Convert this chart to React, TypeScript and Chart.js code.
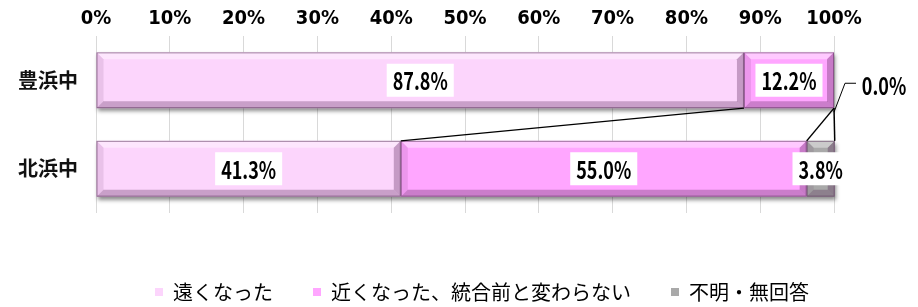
import React, { useEffect, useRef } from 'react';
import { Chart, registerables } from 'chart.js';

Chart.register(...registerables);

const categories = ['豊浜中', '北浜中'];
const seriesNames = ['遠くなった', '近くなった、統合前と変わらない', '不明・無回答'];
const fartherValues = [87.8, 41.3];
const sameValues = [12.2, 55.0];
const unknownValues = [0.0, 3.8];
const xTickLabels = ['0%', '10%', '20%', '30%', '40%', '50%', '60%', '70%', '80%', '90%', '100%'];

const fillColors = ['#FCD5FC', '#FFA6FF', '#A9A9A9'];
const edgeColors = ['#C79BC7', '#B46CB4', '#6E6E6E'];

const CJK = '"Noto Sans CJK JP", sans-serif';
const NARROW = '"Liberation Sans Narrow", "DejaVu Sans Condensed", "Noto Sans CJK JP", sans-serif';
const LABEL_SCALE_X = 0.75;

function poly(ctx: CanvasRenderingContext2D, pts: number[][], fill: string) {
  ctx.beginPath();
  ctx.moveTo(pts[0][0], pts[0][1]);
  for (let i = 1; i < pts.length; i++) ctx.lineTo(pts[i][0], pts[i][1]);
  ctx.closePath();
  ctx.fillStyle = fill;
  ctx.fill();
}

function geom(el: any) {
  const p = el.getProps(['x', 'y', 'base', 'height'], true);
  const l = Math.min(p.x, p.base);
  const r = Math.max(p.x, p.base);
  const t = p.y - p.height / 2;
  const b = p.y + p.height / 2;
  return { l, r, t, b, cy: p.y, end: p.x };
}

const decorPlugin = {
  id: 'decor',
  afterLayout(chart: any) {
    const lg = chart.legend;
    if (lg) {
      lg.left += 65;
      lg.right += 65;
      lg.top += 29;
      lg.bottom += 29;
    }
  },
  beforeDatasetsDraw(chart: any) {
    const ctx = chart.ctx as CanvasRenderingContext2D;
    const n = chart.data.labels.length;
    for (let j = 0; j < n; j++) {
      let l = Infinity, r = -Infinity, t = 0, b = 0;
      chart.data.datasets.forEach((_: any, i: number) => {
        const g = geom(chart.getDatasetMeta(i).data[j]);
        l = Math.min(l, g.l);
        r = Math.max(r, g.r);
        t = g.t;
        b = g.b;
      });
      ctx.save();
      ctx.shadowColor = 'rgba(0,0,0,0.45)';
      ctx.shadowBlur = 4;
      ctx.shadowOffsetX = 1;
      ctx.shadowOffsetY = 3;
      ctx.fillStyle = '#bbbbbb';
      ctx.fillRect(l, t, r - l, b - t);
      ctx.restore();
    }
  },
  afterDatasetsDraw(chart: any) {
    const ctx = chart.ctx as CanvasRenderingContext2D;
    const datasets = chart.data.datasets;
    const n = chart.data.labels.length;
    // bevels
    datasets.forEach((ds: any, i: number) => {
      chart.getDatasetMeta(i).data.forEach((el: any) => {
        const { l, r, t, b } = geom(el);
        if (r - l < 1) return;
        const bw = Math.min(7, (r - l) / 2);
        ctx.save();
        poly(ctx, [[l, t], [r, t], [r - bw, t + bw], [l + bw, t + bw]], 'rgba(255,255,255,0.40)');
        poly(ctx, [[l, b], [r, b], [r - bw, b - bw], [l + bw, b - bw]], 'rgba(70,20,70,0.28)');
        poly(ctx, [[l, t], [l + bw, t + bw], [l + bw, b - bw], [l, b]], 'rgba(70,20,70,0.10)');
        poly(ctx, [[r, t], [r - bw, t + bw], [r - bw, b - bw], [r, b]], 'rgba(70,20,70,0.30)');
        ctx.strokeStyle = 'rgba(90,50,90,0.55)';
        ctx.lineWidth = 1;
        ctx.strokeRect(l + 0.5, t + 0.5, r - l - 1, b - t - 1);
        ctx.restore();
      });
    });
    // series lines between rows
    ctx.save();
    ctx.strokeStyle = '#000';
    ctx.lineWidth = 1.5;
    for (let j = 0; j < n - 1; j++) {
      datasets.forEach((_: any, i: number) => {
        const a = geom(chart.getDatasetMeta(i).data[j]);
        const c = geom(chart.getDatasetMeta(i).data[j + 1]);
        ctx.beginPath();
        ctx.moveTo(a.end, a.b);
        ctx.lineTo(c.end, c.t);
        ctx.stroke();
      });
    }
    ctx.restore();
    // data labels
    datasets.forEach((ds: any, i: number) => {
      chart.getDatasetMeta(i).data.forEach((el: any, j: number) => {
        const v = ds.data[j];
        const text = v.toFixed(1) + '%';
        const g = geom(el);
        ctx.save();
        ctx.font = `bold 24px ${CJK}`;
        const w = ctx.measureText(text).width * LABEL_SCALE_X;
        let cx: number, cy: number;
        if (v > 0) {
          cx = (g.l + g.r) / 2;
          cy = g.cy;
          const bw = w + 12, bh = 33;
          ctx.fillStyle = '#ffffff';
          ctx.fillRect(cx - bw / 2, cy - bh / 2, bw, bh);
        } else {
          cx = g.r + 50;
          cy = g.cy + 5;
          ctx.strokeStyle = '#000';
          ctx.lineWidth = 1;
          ctx.beginPath();
          ctx.moveTo(g.r, g.b + 4);
          ctx.lineTo(g.r + 11, cy - 2);
          ctx.lineTo(g.r + 22, cy - 2);
          ctx.stroke();
        }
        ctx.translate(cx, cy);
        ctx.scale(LABEL_SCALE_X, 1);
        ctx.textAlign = 'center';
        ctx.textBaseline = 'middle';
        ctx.fillStyle = '#000';
        ctx.fillText(text, 0, 1);
        ctx.restore();
      });
    });
  },
};

export default function App() {
  const ref = useRef<HTMLCanvasElement | null>(null);
  useEffect(() => {
    if (!ref.current) return;
    const values = [fartherValues, sameValues, unknownValues];
    const chart = new Chart(ref.current, {
      type: 'bar',
      data: {
        labels: categories,
        datasets: seriesNames.map((name, i) => ({
          label: name,
          data: values[i],
          backgroundColor: fillColors[i],
          borderColor: edgeColors[i],
          borderWidth: 0,
          categoryPercentage: 1,
          barPercentage: 0.63,
        })),
      },
      options: {
        indexAxis: 'y',
        responsive: false,
        animation: false,
        devicePixelRatio: 1,
        layout: { padding: { left: 0, right: 84, top: 0, bottom: 24 } },
        scales: {
          x: {
            position: 'top',
            stacked: true,
            min: 0,
            max: 100,
            ticks: {
              stepSize: 10,
              padding: 5,
              color: '#000',
              font: { family: NARROW, size: 20, weight: 'bold' },
              callback: (_v: any, idx: number) => xTickLabels[idx],
            },
            grid: { color: '#d9d9d9', drawTicks: false, lineWidth: 1 },
            border: { display: false },
            afterFit: (s: any) => { s.height = 36; },
          },
          y: {
            stacked: true,
            ticks: {
              padding: 18,
              color: '#111',
              font: { family: CJK, size: 20, weight: 'bold' },
            },
            grid: { display: false, drawTicks: false },
            border: { display: false },
            afterFit: (s: any) => { s.width = 96; },
          },
        },
        plugins: {
          legend: {
            position: 'bottom',
            labels: {
              boxWidth: 8,
              boxHeight: 8,
              padding: 40,
              color: '#000',
              font: { family: CJK, size: 20 },
            },
          },
          tooltip: { enabled: false },
        },
      },
      plugins: [decorPlugin],
    } as any);
    return () => chart.destroy();
  }, []);
  return (
    <div style={{ position: 'absolute', left: 0, top: 0, width: 918, height: 307, background: '#fff' }}>
      <canvas ref={ref} width={918} height={307} style={{ display: 'block' }} />
    </div>
  );
}
